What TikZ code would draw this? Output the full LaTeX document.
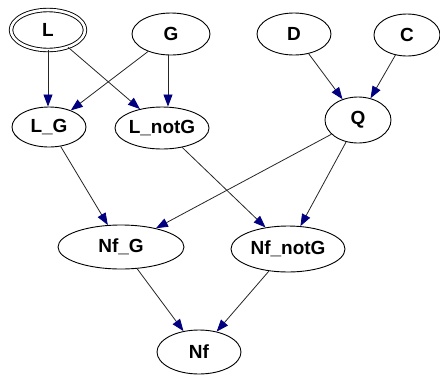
\documentclass[tikz,border=0pt]{standalone}
\usepackage{fontspec}
\setmainfont{Liberation Sans}
\usetikzlibrary{arrows.meta,shapes.geometric}
\definecolor{tipnavy}{RGB}{0,0,128}
\begin{document}
\begin{tikzpicture}[x=1pt,y=-1pt,
  var/.style={ellipse,draw=black,line width=0.9pt,inner sep=0pt,
    font=\bfseries\fontsize{19}{19}\selectfont},
  arc/.style={draw=black!85,line width=0.8pt,
    -{Triangle[length=12pt,width=9pt,fill=tipnavy,color=tipnavy]}}]
\useasboundingbox (0,0) rectangle (440,376);
% variables
\node[var,minimum width=74,minimum height=40,double,double distance=2.6pt] (L) at (48,30) {L};
\node[var,minimum width=78,minimum height=42] (G) at (171,34) {G};
\node[var,minimum width=74,minimum height=42] (D) at (294,34) {D};
\node[var,minimum width=66,minimum height=42] (C) at (407,35) {C};
\node[var,minimum width=74,minimum height=40] (LG) at (49,127) {L\_G};
\node[var,minimum width=94,minimum height=42] (LnotG) at (162,128) {L\_notG};
\node[var,minimum width=66,minimum height=46] (Q) at (358,120) {Q};
\node[var,minimum width=126,minimum height=44] (NfG) at (121,247) {Nf\_G};
\node[var,minimum width=114,minimum height=46] (NfnotG) at (288,249) {Nf\_notG};
\node[var,minimum width=84,minimum height=44] (Nf) at (199,352) {Nf};
% dependencies
\draw[arc] (L.south) -- (L.south |- LG.north);
\draw[arc] (L) -- (LnotG);
\draw[arc] (G) -- (LG);
\draw[arc] ([xshift=-3]G.south) -- ([xshift=-3]G.south |- LnotG.north);
\draw[arc] (D) -- (Q);
\draw[arc] (C) -- (Q);
\draw[arc] (LG) -- (NfG);
\draw[arc] (LnotG) -- (NfnotG);
\draw[arc] (Q) -- (NfG);
\draw[arc] (Q) -- (NfnotG);
\draw[arc] (NfG) -- (Nf);
\draw[arc] (NfnotG) -- (Nf);
\end{tikzpicture}
\end{document}
